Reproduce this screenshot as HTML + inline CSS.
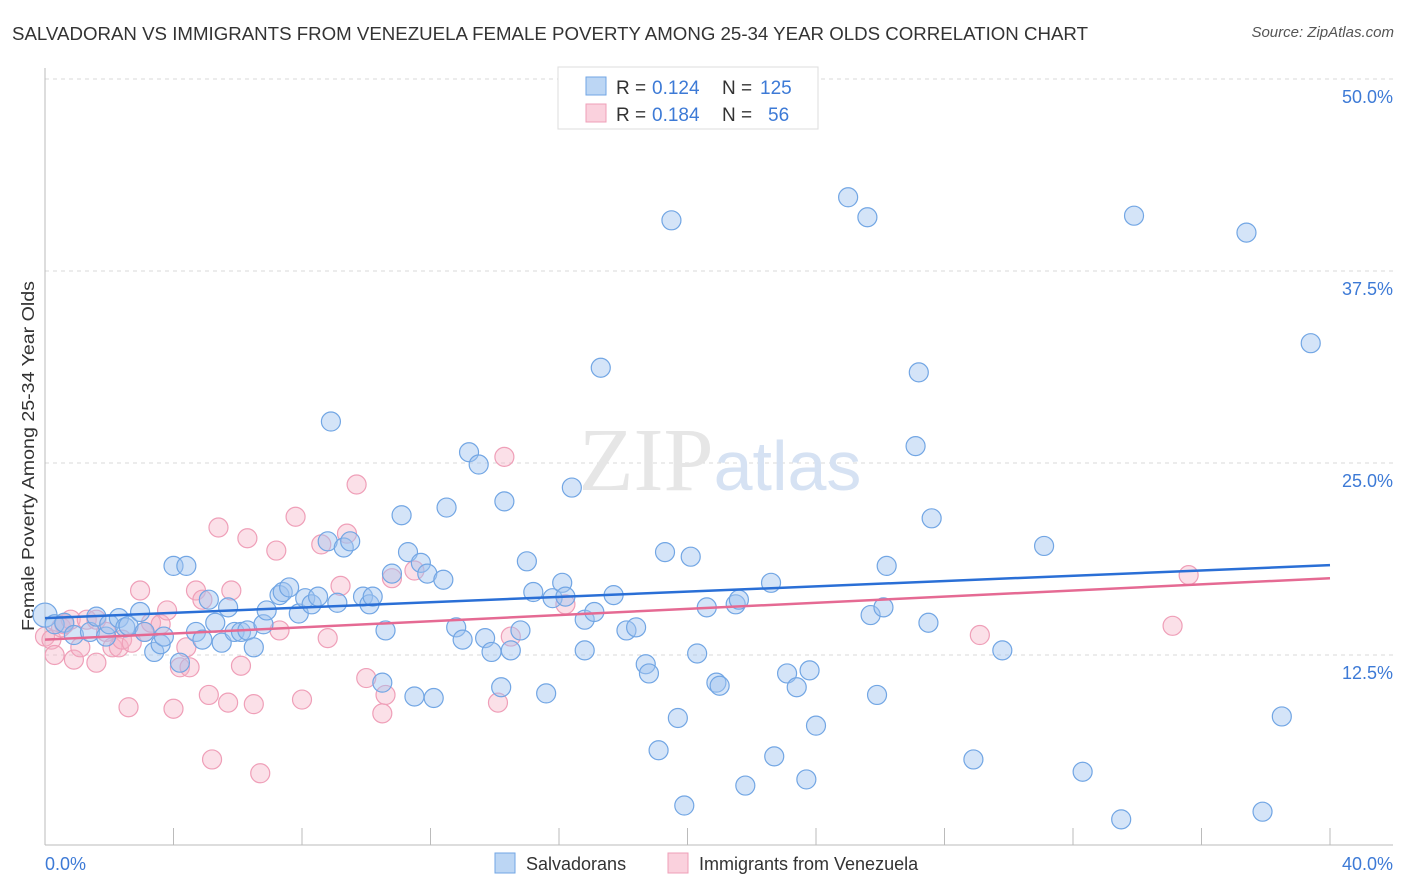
<!DOCTYPE html>
<html><head><meta charset="utf-8">
<style>
body{margin:0;background:#fff;font-family:"Liberation Sans",sans-serif;}
#wrap{position:relative;width:1406px;height:892px;overflow:hidden;}
.t{position:absolute;white-space:nowrap;}
</style></head>
<body><div id="wrap">
<div class="t" style="right:12px;top:24px;font-size:15px;color:#555;font-style:italic;">Source: ZipAtlas.com</div>
<svg id="chart" width="1406" height="892" style="position:absolute;left:0;top:0">
<text x="12" y="40" font-size="18" fill="#333" font-family="Liberation Sans, sans-serif" textLength="1076" lengthAdjust="spacingAndGlyphs">SALVADORAN VS IMMIGRANTS FROM VENEZUELA FEMALE POVERTY AMONG 25-34 YEAR OLDS CORRELATION CHART</text>
</svg>
</div>
<script>
const blueX=[0.0,0.3,0.6,0.9,1.4,1.6,1.9,2.0,2.3,2.5,2.6,2.96,3.1,3.4,3.6,3.7,4.0,4.2,4.4,4.7,4.9,5.1,5.3,5.5,5.7,5.9,6.1,6.3,6.5,6.8,6.9,7.3,7.4,7.6,7.9,8.1,8.3,8.5,8.9,8.8,9.1,9.3,9.5,9.9,10.1,10.2,10.5,10.6,10.8,11.1,11.3,11.5,11.7,11.9,12.1,12.4,12.5,12.8,13.0,13.2,13.5,13.7,13.9,14.2,14.3,14.5,14.8,15.0,15.2,15.6,15.8,16.1,16.2,16.4,16.8,16.8,17.1,17.3,17.7,18.1,18.4,18.7,18.8,19.1,19.3,19.5,19.7,19.9,20.1,20.3,20.6,20.9,21.0,21.5,21.6,21.8,22.6,22.7,23.1,23.4,23.7,23.8,24.0,25.0,25.6,25.7,25.9,26.1,26.2,27.1,27.2,27.5,27.6,28.9,29.8,31.1,32.3,33.5,33.9,37.4,37.9,38.5,39.4];
const blueY=[15.1,14.5,14.6,13.8,14.0,15.0,13.7,14.5,14.9,14.3,14.4,15.3,14.0,12.7,13.2,13.7,18.3,12.0,18.3,14.0,13.5,16.1,14.6,13.3,15.6,14.0,14.0,14.1,13.0,14.5,15.4,16.4,16.6,16.9,15.2,16.2,15.8,16.3,27.7,19.9,15.9,19.5,19.9,16.3,15.8,16.3,10.7,14.1,17.8,21.6,19.2,9.8,18.5,17.8,9.7,17.4,22.1,14.3,13.5,25.7,24.9,13.6,12.7,10.4,22.5,12.8,14.1,18.6,16.6,10.0,16.2,17.2,16.3,23.4,14.8,12.8,15.3,31.2,16.4,14.1,14.3,11.9,11.3,6.3,19.2,40.8,8.4,2.7,18.9,12.6,15.6,10.7,10.5,15.8,16.1,4.0,17.2,5.9,11.3,10.4,4.4,11.5,7.9,42.3,41.0,15.1,9.9,15.6,18.3,26.1,30.9,14.6,21.4,5.7,12.8,19.6,4.9,1.8,41.1,40.0,2.3,8.5,32.8];
const pinkX=[0.0,0.2,0.3,0.5,0.6,0.8,0.9,1.1,1.3,1.6,1.6,1.9,2.1,2.3,2.4,2.6,2.7,2.96,3.1,3.3,3.6,3.8,4.0,4.2,4.4,4.5,4.7,4.9,5.1,5.2,5.4,5.7,5.8,6.1,6.3,6.5,6.7,7.2,7.3,7.8,8.0,8.6,8.8,9.2,9.4,9.7,10.0,10.5,10.6,10.8,11.5,14.1,14.3,14.5,16.2,29.1,35.1,35.6];
const pinkY=[13.7,13.5,12.5,14.3,14.5,14.8,12.2,13.0,14.8,14.8,12.0,14.0,13.0,13.0,13.5,9.1,13.3,16.7,14.0,14.6,14.5,15.4,9.0,11.7,13.0,11.7,16.7,16.1,9.9,5.7,20.8,9.4,16.7,11.8,20.1,9.3,4.8,19.3,14.1,21.5,9.6,19.7,13.6,17.0,20.4,23.6,11.0,8.7,9.9,17.5,18.0,9.4,25.4,13.7,15.8,13.8,14.4,17.7];
const trendBlue=[14.9,18.35];
const trendPink=[13.5,17.5];
const yTicks=[12.5,25.0,37.5,50.0];
const xTicks=[0,4,8,12,16,20,24,28,32,36,40];

const svg=document.getElementById('chart');
const NS='http://www.w3.org/2000/svg';
const X=v=>45+v/40*1285;
const Y=v=>847-v/12.5*192;
function mk(tag,attrs,parent){const e=document.createElementNS(NS,tag);for(const k in attrs)e.setAttribute(k,attrs[k]);(parent||svg).appendChild(e);return e;}
const FF='Liberation Sans, sans-serif';

yTicks.forEach(t=>{
  const g=mk('line',{x1:45,x2:1393,y1:Y(t),y2:Y(t),stroke:'#d8d8d8','stroke-dasharray':'4,4'});
  
  
  const l=mk('text',{x:1393,y:Y(t)+24,'text-anchor':'end','font-size':18,fill:'#3d7ad6','font-family':FF});
  l.textContent=t.toFixed(1)+'%';
  
  
});
const ax=mk('line',{x1:45,x2:1393,y1:845,y2:845,stroke:'#bbb'});


const ay=mk('line',{x1:45,x2:45,y1:68,y2:845,stroke:'#bbb'});


xTicks.forEach(t=>{
  const k=mk('line',{x1:X(t),x2:X(t),y1:828,y2:845,stroke:'#bbb'});
  
  
});
[[0,'start','0.0%',45],[40,'end','40.0%',1393]].forEach(a=>{
  const l=mk('text',{x:a[3],y:870,'text-anchor':a[1],'font-size':18,fill:'#3d7ad6','font-family':FF});
  l.textContent=a[2];
  
  
});
const yt=mk('text',{x:34,y:456,transform:'rotate(-90 34 456)','text-anchor':'middle','font-size':17.5,fill:'#333','font-family':FF,textLength:350,lengthAdjust:'spacingAndGlyphs'});
yt.textContent='Female Poverty Among 25-34 Year Olds';


const wm=mk('text',{x:720,y:490,'text-anchor':'middle','font-size':90,fill:'#e6e6e6','font-family':'Liberation Serif, serif'});
wm.innerHTML='ZIP<tspan font-family="Liberation Sans, sans-serif" font-size="70" fill="#d6e2f3">atlas</tspan>';



pinkX.forEach((x,i)=>{
  const c=mk('circle',{cx:X(x),cy:Y(pinkY[i]),r:9.5,fill:'rgba(246,178,198,0.4)',stroke:'#ef9fb8','stroke-width':1.2});
  
  
});
blueX.forEach((x,i)=>{
  const c=mk('circle',{cx:X(x),cy:Y(blueY[i]),r:i===0?12:9.5,fill:'rgba(160,196,240,0.45)',stroke:'#72a6e4','stroke-width':1.2});
  
  
});
const tb=mk('line',{x1:X(0),x2:X(40),y1:Y(trendBlue[0]),y2:Y(trendBlue[1]),stroke:'#2a6fd6','stroke-width':2.5});


const tp=mk('line',{x1:X(0),x2:X(40),y1:Y(trendPink[0]),y2:Y(trendPink[1]),stroke:'#e56a93','stroke-width':2.5});



const lg=mk('g',{});


mk('rect',{x:558,y:67,width:260,height:62,fill:'#fff',stroke:'#ddd'},lg);
[[77,'rgba(160,196,240,0.7)','#72a6e4','0.124','125',760],[104,'rgba(246,178,198,0.6)','#ef9fb8','0.184','56',768]].forEach(r=>{
  const s=mk('rect',{x:586,y:r[0],width:20,height:18,fill:r[1],stroke:r[2]},lg);
  
  
  const yy=r[0]+17;
  const a=mk('text',{x:616,y:yy,'font-size':19,fill:'#333','font-family':FF},lg);a.textContent='R =';
  
  
  const b=mk('text',{x:652,y:yy,'font-size':19,fill:'#3d7ad6','font-family':FF},lg);b.textContent=r[3];
  
  
  const c=mk('text',{x:722,y:yy,'font-size':19,fill:'#333','font-family':FF},lg);c.textContent='N =';
  
  
  const d=mk('text',{x:r[5],y:yy,'font-size':19,fill:'#3d7ad6','font-family':FF},lg);d.textContent=r[4];
  
  
});
[[495,'rgba(160,196,240,0.7)','#72a6e4','Salvadorans','legend-salvadorans'],[668,'rgba(246,178,198,0.6)','#ef9fb8','Immigrants from Venezuela','legend-venezuela']].forEach(r=>{
  const s=mk('rect',{x:r[0],y:853,width:20,height:20,fill:r[1],stroke:r[2]});
  
  
  const t=mk('text',{x:r[0]+31,y:870,'font-size':18,fill:'#333','font-family':FF});
  t.textContent=r[3];
  
  
});
</script>
</body></html>
